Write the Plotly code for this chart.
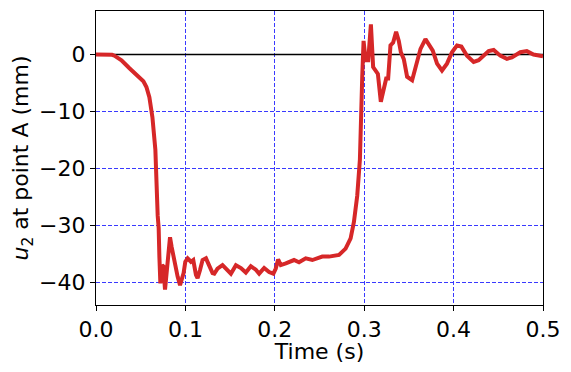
import plotly.graph_objects as go

time_s = [0.000, 0.010, 0.018, 0.0206, 0.0285, 0.0374, 0.0430, 0.0485, 0.0530, 0.0564,
          0.0597, 0.0631, 0.0664, 0.0690, 0.0701, 0.0709, 0.0720, 0.0739, 0.0753, 0.0772,
          0.0790, 0.0809, 0.0828, 0.0846, 0.0865, 0.0887, 0.0913, 0.0940, 0.0962, 0.0980,
          0.0999, 0.1025, 0.1062, 0.1088, 0.1118, 0.1136, 0.1163, 0.1192, 0.1230, 0.1267,
          0.1304, 0.1323, 0.1359, 0.1415, 0.1471, 0.1509, 0.1565, 0.1621, 0.1676, 0.1732,
          0.1788, 0.1825, 0.1881, 0.1936, 0.1984, 0.2011, 0.2037, 0.2067, 0.2123, 0.2160,
          0.2215, 0.2271, 0.2346, 0.2420, 0.2531, 0.2606, 0.2718, 0.2792, 0.2848, 0.2885,
          0.2922, 0.2952, 0.2971, 0.2978, 0.2993, 0.3016, 0.3045, 0.3075, 0.3100, 0.3127,
          0.3153, 0.3186, 0.3220, 0.3246, 0.3268, 0.3294, 0.3324, 0.3357, 0.3387, 0.3410,
          0.3443, 0.3480, 0.3536, 0.3574, 0.3630, 0.3685, 0.3722, 0.3767, 0.3815, 0.3870,
          0.3926, 0.3982, 0.4038, 0.4087, 0.4150, 0.4224, 0.4280, 0.4392, 0.4448, 0.4522,
          0.4596, 0.4652, 0.4746, 0.4819, 0.4894, 0.5000]
u2_mm = [0.0, 0.0, -0.05, -0.2, -1.0, -2.4, -3.2, -3.9, -4.7, -5.7,
         -7.5, -11.0, -16.7, -28.3, -30.5, -35.5, -40.2, -37.0, -37.2, -41.3,
         -37.9, -33.8, -32.1, -33.8, -35.5, -37.3, -39.0, -40.5, -39.6, -38.4,
         -36.4, -35.8, -36.4, -36.1, -38.7, -39.3, -37.9, -36.1, -35.8, -37.0,
         -38.4, -38.5, -37.6, -37.0, -38.0, -38.5, -37.0, -37.5, -38.3, -37.2,
         -37.8, -38.5, -37.5, -38.2, -38.5, -37.6, -36.0, -37.0, -36.7, -36.4,
         -36.1, -36.5, -35.8, -36.1, -35.5, -35.5, -35.2, -34.1, -32.3, -29.4,
         -24.8, -18.4, -10.9, -3.9, 2.4, -1.0, -1.0, 5.3, -2.2, -2.8,
         -3.4, -8.3, -5.7, -4.2, -4.2, 1.6, 2.1, 4.0, 2.4, 0.4,
         -0.8, -3.9, -4.5, -2.5, 1.0, 2.7, 1.9, 0.7, -1.6, -2.8,
         -1.6, 0.4, 1.6, 1.4, -0.2, -1.3, -1.0, 0.6, 0.8, -0.2,
         -0.75, -0.5, 0.4, 0.6, 0.0, -0.3]

x_ticks = [0.0, 0.1, 0.2, 0.3, 0.4, 0.5]
y_ticks = [-40, -30, -20, -10, 0]

fig = go.Figure()
fig.add_trace(go.Scatter(x=[0, 0.5], y=[0, 0], mode="lines",
                         line=dict(color="black", width=1.4), showlegend=False, hoverinfo="skip"))
fig.add_trace(go.Scatter(x=time_s, y=u2_mm, mode="lines",
                         line=dict(color="#d62728", width=4), showlegend=False))

font = dict(family="DejaVu Sans", size=22, color="black")
axis_common = dict(showline=True, linecolor="black", linewidth=1.1, mirror=True,
                   ticks="outside", ticklen=5, tickwidth=1.1, tickcolor="black",
                   showgrid=True, gridcolor="#3a3aff", gridwidth=0.8, griddash="4px,2px",
                   zeroline=False, tickfont=font)

# page body has an 8px default margin, so the figure is 16px smaller than the window
fig.update_layout(
    width=555, height=356,
    margin=dict(l=88, r=19, t=2, b=57),
    paper_bgcolor="white", plot_bgcolor="white",
    font=font,
    xaxis=dict(range=[0, 0.5], tickvals=x_ticks, ticktext=[f"{v:.1f}" for v in x_ticks],
               title=dict(text="Time (s)", font=font, standoff=4), **axis_common),
    yaxis=dict(range=[-44, 7.65], tickvals=y_ticks, ticktext=[("−" + str(abs(v))) if v < 0 else str(v) for v in y_ticks],
               title=dict(text="<i>u</i><sub>2</sub> at point A (mm)", font=font, standoff=8), **axis_common),
)

fig.write_html("out.html")
